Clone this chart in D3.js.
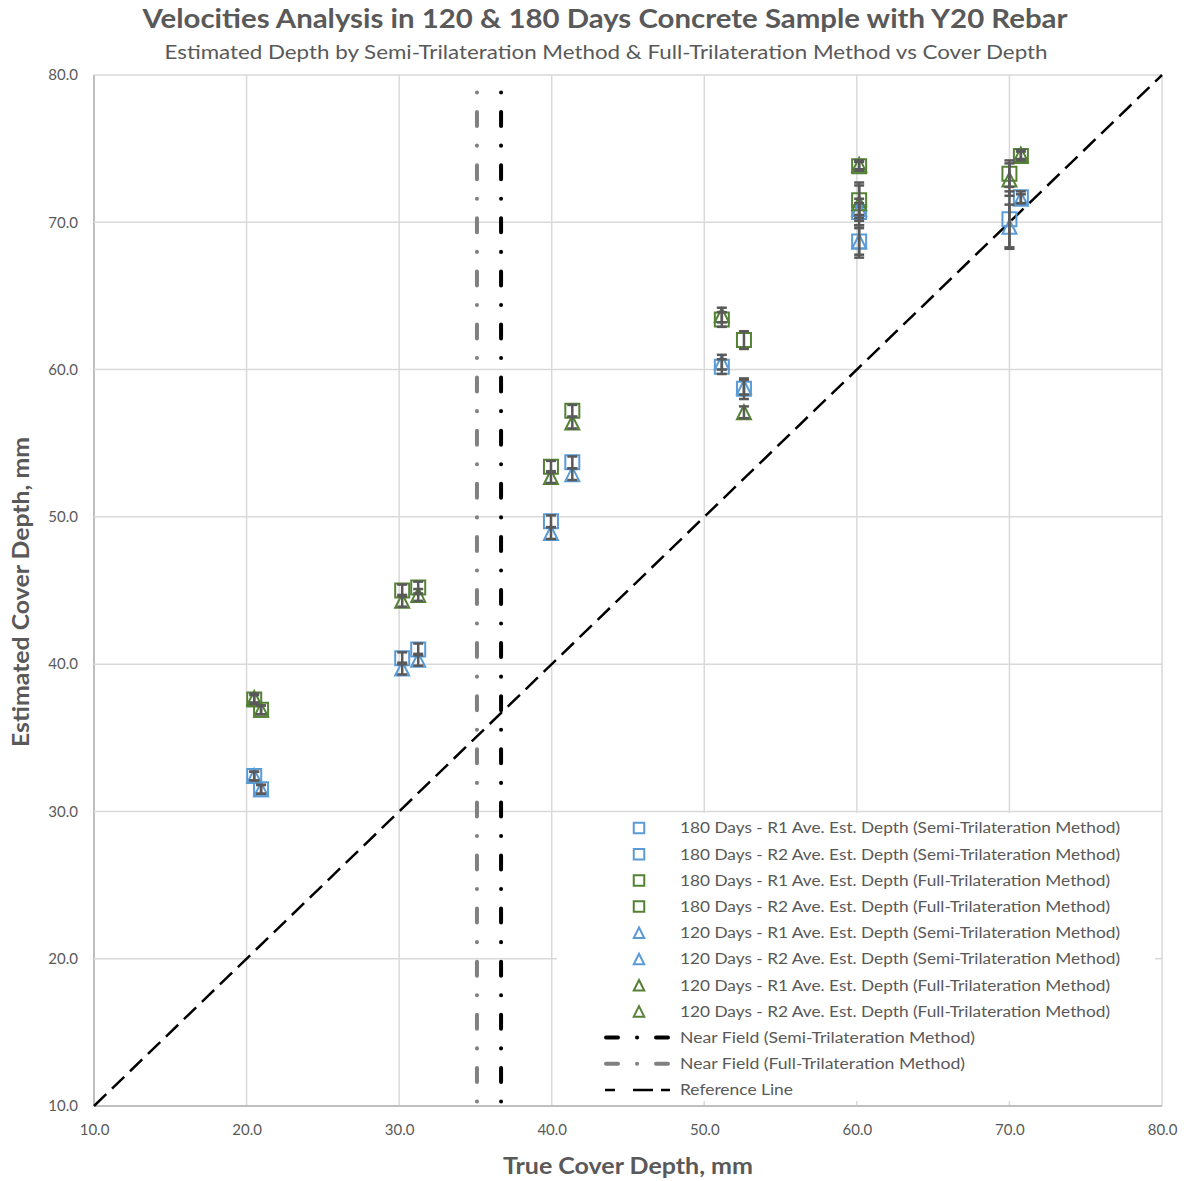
<!DOCTYPE html>
<html>
<head>
<meta charset="utf-8">
<script src="https://cdn.jsdelivr.net/npm/d3@7"></script>
<style>
  html, body { margin: 0; padding: 0; background: #fff; }
  svg { display: block; }
  text { font-family: Lato, "Open Sans", sans-serif; fill: #595959; }
</style>
</head>
<body>
<svg id="chart" width="1184" height="1181"></svg>
<script>
// ---------------- DATA ----------------
const titleText = "Velocities Analysis in 120 & 180 Days Concrete Sample with Y20 Rebar";
const subtitleText = "Estimated Depth by Semi-Trilateration Method & Full-Trilateration Method vs Cover Depth";
const xAxisTitle = "True Cover Depth, mm";
const yAxisTitle = "Estimated Cover Depth, mm";
const tickValues = [10, 20, 30, 40, 50, 60, 70, 80];

// true cover depth positions for rebar R1 and R2
const xR1 = [20.5, 30.2, 39.95, 51.15, 60.15, 70.0];
const xR2 = [20.95, 31.25, 41.35, 52.6, 60.15, 70.75];

// 180 days (squares)
const d180_R1_semi = [32.4, 40.4, 49.7, 60.2, 70.7, 70.2];
const d180_R2_semi = [31.5, 41.0, 53.7, 58.7, 68.7, 71.7];
const d180_R1_full = [37.6, 45.0, 53.4, 63.4, 73.8, 73.3];
const d180_R2_full = [36.9, 45.2, 57.2, 62.0, 71.5, 74.5];
// 120 days (triangles)
const d120_R1_semi = [32.4, 39.7, 48.9, 60.5, 70.9, 69.7];
const d120_R2_semi = [31.5, 40.3, 52.9, 58.8, 68.7, 71.6];
const d120_R1_full = [37.7, 44.3, 52.7, 63.7, 73.9, 72.9];
const d120_R2_full = [36.9, 44.7, 56.4, 57.1, 71.3, 74.6];

// error bar half-widths (mm)
const e180_R1_semi = [0.3, 0.4, 0.4, 0.5, 0.9, 1.9];
const e180_R2_semi = [0.3, 0.4, 0.4, 0.7, 1.1, 0.4];
const e180_R1_full = [0.3, 0.4, 0.4, 0.5, 0.3, 0.9];
const e180_R2_full = [0.3, 0.4, 0.4, 0.6, 1.2, 0.3];
const e120_R1_semi = [0.3, 0.4, 0.4, 0.5, 0.4, 1.5];
const e120_R2_semi = [0.3, 0.4, 0.4, 0.5, 0.9, 0.3];
const e120_R1_full = [0.3, 0.4, 0.4, 0.5, 0.3, 1.1];
const e120_R2_full = [0.3, 0.4, 0.4, 0.4, 1.2, 0.3];

const nearFieldSemi = 36.68;
const nearFieldFull = 35.1;
const referenceLine = [[10, 10], [80, 80]];

const seriesNames = [
  "180 Days - R1 Ave. Est. Depth (Semi-Trilateration Method)",
  "180 Days - R2 Ave. Est. Depth (Semi-Trilateration Method)",
  "180 Days - R1 Ave. Est. Depth (Full-Trilateration Method)",
  "180 Days - R2 Ave. Est. Depth (Full-Trilateration Method)",
  "120 Days - R1 Ave. Est. Depth (Semi-Trilateration Method)",
  "120 Days - R2 Ave. Est. Depth (Semi-Trilateration Method)",
  "120 Days - R1 Ave. Est. Depth (Full-Trilateration Method)",
  "120 Days - R2 Ave. Est. Depth (Full-Trilateration Method)"
];
const lineNames = [
  "Near Field (Semi-Trilateration Method)",
  "Near Field (Full-Trilateration Method)",
  "Reference Line"
];

// ---------------- STYLE ----------------
const BLUE = "#5B9BD5", GREEN = "#548235", ERR = "#595959";
const series = [
  {name: seriesNames[0], xs: xR1, ys: d180_R1_semi, es: e180_R1_semi, shape: "square", color: BLUE},
  {name: seriesNames[1], xs: xR2, ys: d180_R2_semi, es: e180_R2_semi, shape: "square", color: BLUE},
  {name: seriesNames[2], xs: xR1, ys: d180_R1_full, es: e180_R1_full, shape: "square", color: GREEN},
  {name: seriesNames[3], xs: xR2, ys: d180_R2_full, es: e180_R2_full, shape: "square", color: GREEN},
  {name: seriesNames[4], xs: xR1, ys: d120_R1_semi, es: e120_R1_semi, shape: "triangle", color: BLUE},
  {name: seriesNames[5], xs: xR2, ys: d120_R2_semi, es: e120_R2_semi, shape: "triangle", color: BLUE},
  {name: seriesNames[6], xs: xR1, ys: d120_R1_full, es: e120_R1_full, shape: "triangle", color: GREEN},
  {name: seriesNames[7], xs: xR2, ys: d120_R2_full, es: e120_R2_full, shape: "triangle", color: GREEN}
];

const svg = d3.select("#chart");
const x = d3.scaleLinear().domain([10, 80]).range([94, 1162]);
const y = d3.scaleLinear().domain([10, 80]).range([1106, 75]);

// gridlines
const grid = svg.append("g");
grid.selectAll("line.gx").data(tickValues).join("line")
  .attr("x1", d => x(d)).attr("x2", d => x(d)).attr("y1", y(10)).attr("y2", y(80))
  .attr("stroke", d => d === 10 ? "#bfbfbf" : "#d9d9d9").attr("stroke-width", d => d === 10 ? 2 : 1.5);
grid.selectAll("line.gy").data(tickValues).join("line")
  .attr("y1", d => y(d)).attr("y2", d => y(d)).attr("x1", x(10)).attr("x2", x(80))
  .attr("stroke", d => d === 10 ? "#bfbfbf" : "#d9d9d9").attr("stroke-width", d => d === 10 ? 2 : 1.5);

// axes tick labels via d3 axis
const fmt = d3.format(".1f");
const xAxis = svg.append("g").attr("transform", `translate(0,${y(10)})`)
  .call(d3.axisBottom(x).tickValues(tickValues).tickFormat(fmt).tickSize(0).tickPadding(18));
const yAxis = svg.append("g").attr("transform", `translate(${x(10)},0)`)
  .call(d3.axisLeft(y).tickValues(tickValues).tickFormat(fmt).tickSize(0).tickPadding(16));
[xAxis, yAxis].forEach(a => {
  a.select(".domain").remove();
  a.selectAll("text").attr("font-family", "Lato, sans-serif").attr("font-size", 15).attr("fill", "#595959");
});

// near field lines
const clipTop = y(80), clipBot = y(10);
svg.append("line").attr("x1", x(nearFieldFull)).attr("x2", x(nearFieldFull))
  .attr("y1", clipTop).attr("y2", clipBot)
  .attr("stroke", "#808080").attr("stroke-width", 4).attr("stroke-linecap", "round")
  .attr("stroke-dasharray", "14,19.5,0.1,19.5").attr("stroke-dashoffset", 16);
svg.append("line").attr("x1", x(nearFieldSemi)).attr("x2", x(nearFieldSemi))
  .attr("y1", clipTop).attr("y2", clipBot)
  .attr("stroke", "#000").attr("stroke-width", 4).attr("stroke-linecap", "round")
  .attr("stroke-dasharray", "14,19.5,0.1,19.5").attr("stroke-dashoffset", 16);

// reference line
svg.append("path")
  .attr("d", d3.line().x(d => x(d[0])).y(d => y(d[1]))(referenceLine))
  .attr("fill", "none").attr("stroke", "#000").attr("stroke-width", 2.5)
  .attr("stroke-dasharray", "17,8");

// markers
function shapePath(shape, cx, cy, s) {
  const h = s / 2;
  if (shape === "square") {
    return `M${cx - h},${cy - h}H${cx + h}V${cy + h}H${cx - h}Z`;
  }
  return `M${cx},${cy - h}L${cx + h},${cy + h}L${cx - h},${cy + h}Z`;
}
const markers = svg.append("g");
series.forEach(s => {
  markers.append("g").selectAll("path").data(s.ys.map((v, i) => [s.xs[i], v])).join("path")
    .attr("d", d => shapePath(s.shape, x(d[0]), y(d[1]), 14))
    .attr("fill", "none").attr("stroke", s.color).attr("stroke-width", 2);
});

// error bars
const errG = svg.append("g").attr("stroke", ERR).attr("stroke-width", 2.5);
series.forEach(s => {
  s.ys.forEach((v, i) => {
    const cx = x(s.xs[i]), e = s.es[i];
    const y1 = y(v - e), y2 = y(v + e);
    errG.append("line").attr("x1", cx).attr("x2", cx).attr("y1", y1).attr("y2", y2);
    errG.append("line").attr("x1", cx - 5).attr("x2", cx + 5).attr("y1", y1).attr("y2", y1);
    errG.append("line").attr("x1", cx - 5).attr("x2", cx + 5).attr("y1", y2).attr("y2", y2);
  });
});

// legend
const lg = svg.append("g");
lg.append("rect").attr("x", 557).attr("y", 813).attr("width", 598).attr("height", 288).attr("fill", "#fff");
const rowY = i => 828 + i * 26.2;
const semiW = 440, fullW = 430;
series.forEach((s, i) => {
  lg.append("path").attr("d", shapePath(s.shape, 639, rowY(i), 10.5))
    .attr("fill", "none").attr("stroke", s.color).attr("stroke-width", 2);
  lg.append("text").attr("x", 680).attr("y", rowY(i)).attr("dy", "0.35em")
    .attr("font-size", 15.5)
    .attr("textLength", s.name.includes("Semi") ? semiW : fullW).attr("lengthAdjust", "spacingAndGlyphs")
    .text(s.name);
});
const lineDefs = [
  {name: lineNames[0], color: "#000", w: 295, type: "dashdot"},
  {name: lineNames[1], color: "#808080", w: 285, type: "dashdot"},
  {name: lineNames[2], color: "#000", w: 113, type: "dash"}
];
lineDefs.forEach((l, j) => {
  const ry = rowY(8 + j);
  if (l.type === "dashdot") {
    lg.append("line").attr("x1", 606).attr("x2", 618).attr("y1", ry).attr("y2", ry)
      .attr("stroke", l.color).attr("stroke-width", 4).attr("stroke-linecap", "round");
    lg.append("line").attr("x1", 637).attr("x2", 637.1).attr("y1", ry).attr("y2", ry)
      .attr("stroke", l.color).attr("stroke-width", 4).attr("stroke-linecap", "round");
    lg.append("line").attr("x1", 656).attr("x2", 668).attr("y1", ry).attr("y2", ry)
      .attr("stroke", l.color).attr("stroke-width", 4).attr("stroke-linecap", "round");
  } else {
    lg.append("line").attr("x1", 605).attr("x2", 670).attr("y1", ry).attr("y2", ry)
      .attr("stroke", l.color).attr("stroke-width", 2.5).attr("stroke-dasharray", "10,18,20,8,9");
  }
  lg.append("text").attr("x", 680).attr("y", ry).attr("dy", "0.35em")
    .attr("font-size", 15.5)
    .attr("textLength", l.w).attr("lengthAdjust", "spacingAndGlyphs")
    .text(l.name);
});

// titles
svg.append("text").attr("x", 605).attr("y", 28).attr("text-anchor", "middle")
  .attr("font-size", 26).attr("font-weight", "bold")
  .attr("textLength", 925).attr("lengthAdjust", "spacingAndGlyphs").text(titleText);
svg.append("text").attr("x", 606).attr("y", 59).attr("text-anchor", "middle")
  .attr("font-size", 20)
  .attr("textLength", 883).attr("lengthAdjust", "spacingAndGlyphs").text(subtitleText);
svg.append("text").attr("x", 628).attr("y", 1174).attr("text-anchor", "middle")
  .attr("font-size", 22).attr("font-weight", "bold")
  .attr("textLength", 250).attr("lengthAdjust", "spacingAndGlyphs").text(xAxisTitle);
svg.append("text").attr("transform", "translate(29,592) rotate(-90)").attr("text-anchor", "middle")
  .attr("font-size", 22).attr("font-weight", "bold")
  .attr("textLength", 310).attr("lengthAdjust", "spacingAndGlyphs").text(yAxisTitle);
</script>
</body>
</html>
